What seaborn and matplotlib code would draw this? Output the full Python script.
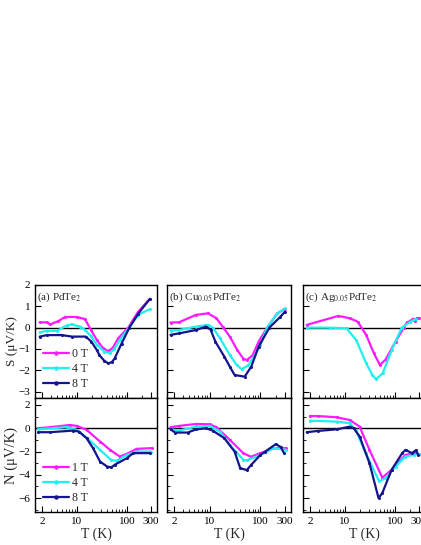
import numpy as np
import matplotlib
matplotlib.use("Agg")
import matplotlib.pyplot as plt
import matplotlib.ticker as mticker
import seaborn as sns

sns.set_style("ticks")
plt.rcParams['font.family'] = ['Liberation Serif', 'DejaVu Serif']
plt.rcParams['mathtext.fontset'] = 'stix'

MAG = '#ff1aff'
CYA = '#1ef0f0'
NAV = '#14148c'

# --- (a) PdTe2, S ---
a_S_T0 = [1.8, 2.5, 2.9, 4.2, 5.8, 10, 14.5, 19, 25, 33, 42, 52, 67, 106, 168, 288]
a_S_0 = [0.25, 0.25, 0.15, 0.3, 0.5, 0.5, 0.4, -0.1, -0.58, -0.95, -1.1, -0.95, -0.5, 0.0, 0.75, 1.35]
a_S_T4 = [1.8, 2.5, 4.0, 6.2, 7.8, 11.5, 14.5, 19, 25, 35, 45, 56, 72, 110, 168, 288]
a_S_4 = [-0.22, -0.15, -0.15, 0.1, 0.15, 0.05, -0.1, -0.4, -0.8, -1.12, -1.2, -1.0, -0.58, 0.0, 0.6, 0.87]
a_S_T8 = [1.8, 2.5, 5, 8, 15, 19.5, 25, 28, 35, 42, 50, 57, 78, 112, 168, 288]
a_S_8 = [-0.42, -0.35, -0.35, -0.42, -0.42, -0.66, -1.05, -1.28, -1.55, -1.67, -1.62, -1.44, -0.75, 0.0, 0.65, 1.35]

# --- (b) Cu0.05PdTe2, S ---
b_S_T0 = [1.7, 2.5, 5.4, 9.3, 13.6, 18, 25, 35, 46, 54, 70, 92, 136, 215, 305]
b_S_0 = [0.24, 0.25, 0.6, 0.67, 0.44, 0.05, -0.42, -1.05, -1.45, -1.52, -1.3, -0.66, 0.0, 0.67, 0.88]
b_S_T4 = [1.7, 2.5, 5.4, 9.3, 11.6, 16, 25, 34, 43, 58, 75, 100, 135, 215, 305]
b_S_4 = [-0.14, -0.11, 0.05, 0.13, 0.0, -0.5, -1.28, -1.75, -1.95, -1.76, -1.35, -0.8, 0.0, 0.67, 0.9]
b_S_T8 = [1.7, 2.5, 5.4, 8.5, 10.5, 13, 19.5, 25, 31, 49, 66, 92, 150, 240, 305]
b_S_8 = [-0.34, -0.27, -0.11, 0.05, -0.1, -0.66, -1.36, -1.83, -2.22, -2.3, -1.83, -0.9, 0.0, 0.48, 0.75]

# --- (c) Ag0.05PdTe2, S ---
c_S_T0 = [1.72, 7.4, 12.5, 18, 26.6, 38, 50, 65, 103, 150, 175, 200, 230, 250, 273, 300]
c_S_0 = [0.13, 0.55, 0.44, 0.28, -0.34, -1.2, -1.75, -1.5, -0.66, 0.0, 0.25, 0.3, 0.42, 0.3, 0.45, 0.45]
c_S_T4 = [1.72, 5, 10.8, 17, 26.6, 35, 41.8, 57, 86, 137, 205, 260]
c_S_4 = [0.0, 0.0, -0.03, -0.6, -1.67, -2.2, -2.42, -2.14, -1.05, 0.0, 0.28, 0.4]

# --- (a) N ---
a_N_T1 = [1.7, 2.9, 7.2, 10, 15.6, 29, 46, 72, 100, 156, 312]
a_N_1 = [0.0, 0.09, 0.28, 0.2, -0.14, -1.14, -1.86, -2.43, -2.2, -1.77, -1.71]
a_N_T4 = [1.7, 6.4, 10, 15.6, 29, 49, 62, 100, 156, 300]
a_N_4 = [-0.1, 0.1, -0.14, -0.8, -1.86, -2.75, -2.8, -2.29, -2.0, -2.0]
a_N_T8 = [1.7, 2.9, 8.5, 11, 15.6, 21, 29, 40, 49, 57, 100, 134, 288]
a_N_8 = [-0.34, -0.34, -0.2, -0.29, -0.86, -1.71, -2.86, -3.29, -3.37, -3.14, -2.57, -2.14, -2.14]

# --- (b) N ---
b_N_T1 = [1.7, 2.5, 5.4, 10, 13.6, 25, 46, 65, 100, 185, 316]
b_N_1 = [0.09, 0.2, 0.37, 0.34, 0.09, -1.0, -2.14, -2.45, -2.14, -1.71, -1.71]
b_N_T4 = [1.7, 2.5, 5.4, 10, 16, 25, 46, 55, 100, 185, 316]
b_N_4 = [-0.08, -0.2, 0.14, 0.2, -0.29, -1.43, -2.71, -2.75, -2.29, -1.71, -1.85]
b_N_T8 = [1.7, 2.1, 3.7, 5.4, 8.5, 11.5, 19.5, 31, 40, 54, 66, 100, 125, 200, 250, 292]
b_N_8 = [-0.1, -0.37, -0.37, -0.1, 0.0, -0.2, -0.86, -2.0, -3.43, -3.6, -3.14, -2.29, -2.0, -1.37, -1.6, -2.14]

# --- (c) N ---
c_N_T1 = [2.0, 2.9, 6.9, 12.5, 19.7, 31, 56, 86, 162, 240, 300]
c_N_1 = [1.05, 1.05, 0.94, 0.71, 0.14, -1.86, -4.25, -3.57, -2.29, -2.14, -2.2]
c_N_T4 = [2.0, 7, 12.5, 16.5, 26, 48.5, 65, 103, 162, 240, 300]
c_N_4 = [0.65, 0.57, 0.43, -0.14, -2.14, -4.57, -4.29, -3.29, -2.43, -2.29, -2.2]
c_N_T8 = [1.72, 2.9, 7, 12.5, 15, 19.7, 31, 47, 56, 86, 140, 163, 220, 260, 294]
c_N_8 = [-0.34, -0.23, -0.09, 0.14, 0.0, -0.71, -3.0, -6.0, -5.57, -3.57, -2.14, -1.86, -2.14, -1.9, -2.29]

panel_labels = ['(a) PdTe$_2$', '(b) Cu$_{0.05}$PdTe$_2$', '(c) Ag$_{0.05}$PdTe$_2$']
x_ticks = [2, 10, 100, 300]
x_ticklabels = ['2', '10', '100', '300']

fig = plt.figure(figsize=(4.21, 5.45), dpi=100)
W, H = 421, 545
lefts = [35, 167, 303]
widths = [122, 124, 122]

def px_axes(x0, y0, w, h):
    return fig.add_axes([x0 / W, 1 - (y0 + h) / H, w / W, h / H])

top_axes = [px_axes(lefts[i], 285, widths[i], 113) for i in range(3)]
bot_axes = [px_axes(lefts[i], 398, widths[i], 114) for i in range(3)]

top_data = [
    [(a_S_T0, a_S_0, MAG, '0 T'), (a_S_T4, a_S_4, CYA, '4 T'), (a_S_T8, a_S_8, NAV, '8 T')],
    [(b_S_T0, b_S_0, MAG, '0 T'), (b_S_T4, b_S_4, CYA, '4 T'), (b_S_T8, b_S_8, NAV, '8 T')],
    [(c_S_T0, c_S_0, MAG, '0 T'), (c_S_T4, c_S_4, CYA, '4 T')],
]
bot_data = [
    [(a_N_T1, a_N_1, MAG, '1 T'), (a_N_T4, a_N_4, CYA, '4 T'), (a_N_T8, a_N_8, NAV, '8 T')],
    [(b_N_T1, b_N_1, MAG, '1 T'), (b_N_T4, b_N_4, CYA, '4 T'), (b_N_T8, b_N_8, NAV, '8 T')],
    [(c_N_T1, c_N_1, MAG, '1 T'), (c_N_T4, c_N_4, CYA, '4 T'), (c_N_T8, c_N_8, NAV, '8 T')],
]

def style(ax, ylim, major, minor):
    ax.set_xscale('log')
    ax.set_xlim(1.45, 400)
    ax.set_ylim(*ylim)
    ax.axhline(0, color='black', lw=1.0, zorder=1)
    ax.xaxis.set_major_locator(mticker.FixedLocator(x_ticks))
    ax.xaxis.set_minor_locator(mticker.LogLocator(base=10, subs=np.arange(2, 10), numticks=10))
    ax.yaxis.set_major_locator(mticker.MultipleLocator(major))
    if minor:
        ax.yaxis.set_minor_locator(mticker.MultipleLocator(minor))
    ax.tick_params(which='both', direction='in', top=False, right=False, labelsize=8, colors='black')
    ax.tick_params(which='major', length=4, width=0.8)
    ax.tick_params(which='minor', length=2, width=0.6)
    for s in ax.spines.values():
        s.set_color('black')
        s.set_linewidth(1.0)

for i, ax in enumerate(top_axes):
    for T, v, c, lab in top_data[i]:
        sns.lineplot(x=T, y=v, ax=ax, color=c, lw=1.6, marker='o', markersize=2.2,
                     markeredgewidth=0, label=lab, estimator=None, sort=False, legend=False)
    style(ax, (-3.3, 2.0), 1, None)
    ax.set_xticklabels([])
    ax.set_xlabel('')
    ax.text(0.02, 0.95, panel_labels[i], transform=ax.transAxes, ha='left', va='top', fontsize=8)
    if i > 0:
        ax.set_yticklabels([])

for i, ax in enumerate(bot_axes):
    for T, v, c, lab in bot_data[i]:
        sns.lineplot(x=T, y=v, ax=ax, color=c, lw=1.6, marker='o', markersize=2.2,
                     markeredgewidth=0, label=lab, estimator=None, sort=False, legend=False)
    style(ax, (-7.2, 2.6), 2, 1)
    ax.set_xticklabels(x_ticklabels)
    ax.set_xlabel('T (K)', fontsize=10, labelpad=1)
    if i > 0:
        ax.set_yticklabels([])

top_axes[0].set_ylabel('S (μV/K)', fontsize=9.5, labelpad=0)
bot_axes[0].set_ylabel('N (μV/K)', fontsize=10.5, labelpad=0)

for ax in (top_axes[0], bot_axes[0]):
    h = [plt.Line2D([], [], color=c, lw=1.6, marker='o', markersize=2.2, markevery=[0, 2])
         for c in (MAG, CYA, NAV)]
    labs = [l.get_label() for l in ax.get_lines()[:3]]
    ax.legend(h, labs, loc='lower left', frameon=False, fontsize=8.5, handlelength=2.2,
              handletextpad=0.2, labelspacing=0.25, borderaxespad=0.3, bbox_to_anchor=(0.0, 0.0))

fig.savefig('out.png', dpi=100)
